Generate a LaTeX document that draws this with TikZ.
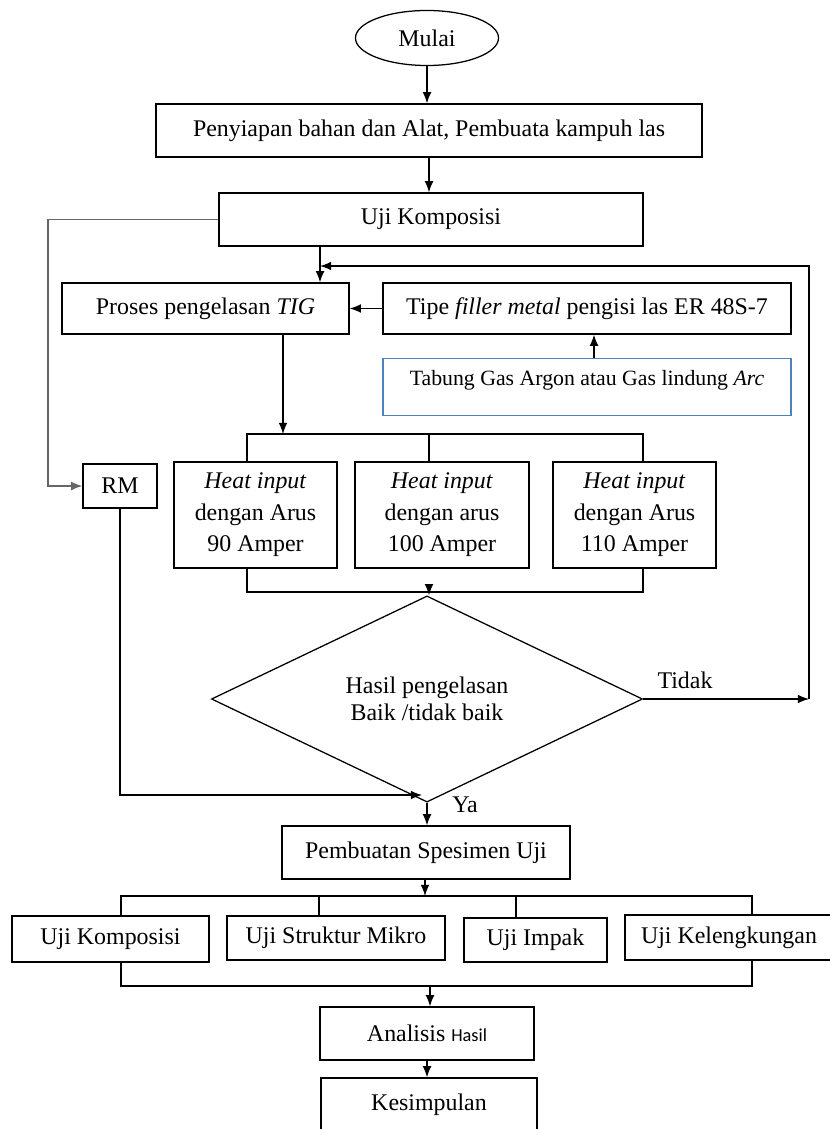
\documentclass[tikz,border=0pt]{standalone}
\usepackage{fontspec}
\setmainfont{Liberation Serif}
\newfontfamily\hasilfont{Carlito}
\usetikzlibrary{shapes.geometric, arrows.meta}
\definecolor{tabungblue}{RGB}{79,129,189}

\begin{document}
\begin{tikzpicture}[
    x=0.025cm, y=-0.025cm,
    process/.style={rectangle, draw, line width=0.9pt, minimum height=1.325cm, inner sep=2pt, align=center, fill=white},
    startstop/.style={ellipse, draw, line width=0.9pt, inner sep=0pt, minimum width=3.575cm, minimum height=1.375cm},
    decision/.style={diamond, draw, line width=0.9pt, inner sep=0pt, minimum width=10.775cm, minimum height=3.625cm, align=center, font=\fontsize{17}{19}\selectfont},
    arrow/.style={-{Latex[length=2.8mm, width=2.2mm]}, line width=0.9pt},
    connector/.style={line width=0.9pt},
    note/.style={font=\fontsize{17}{20}\selectfont},
    every node/.append style={font=\fontsize{17}{22.4}\selectfont}
]
    \useasboundingbox (0,0) rectangle (829,1129);

    \node[startstop] (mulai) at (427,38) {Mulai};
    \node[process, minimum width=13.65cm] (siap) at (429,130.5) {Penyiapan bahan dan Alat, Pembuata kampuh las};
    \node[process, minimum width=10.6cm] (ujikomp) at (431,219.5) {Uji Komposisi};
    \node[process, minimum width=7.175cm, minimum height=1.275cm] (tig) at (205.5,308.5) {Proses pengelasan \textit{TIG}};
    \node[process, minimum width=10.2cm, minimum height=1.275cm] (filler) at (587,308.5) {Tipe \textit{filler metal} pengisi las ER 48S-7};
    \node[process, draw=tabungblue, minimum width=10.2cm, minimum height=0pt, inner sep=0pt, text height=0.675cm, text depth=0.75cm, anchor=north, font=\fontsize{15.5}{18}\selectfont] (tabung) at (587,358) {Tabung Gas Argon atau Gas lindung \textit{Arc}};
    \node[process, minimum width=1.85cm, minimum height=1.1cm] (rm) at (120,486) {RM};
    \node[process, minimum width=4.075cm, minimum height=2.65cm] (heat90) at (255.5,515) {\textit{Heat input}\\dengan Arus\\90 Amper};
    \node[process, minimum width=4.35cm, minimum height=2.65cm] (heat100) at (442,515) {\textit{Heat input}\\dengan arus\\100 Amper};
    \node[process, minimum width=4.075cm, minimum height=2.65cm] (heat110) at (634.5,515) {\textit{Heat input}\\dengan Arus\\110 Amper};
    \node[decision] (hasil) at (427,699) {Hasil pengelasan\\Baik /tidak baik};
    \node[note] (tidak) at (685,680) {Tidak};
    \node[note] (ya) at (465,805) {Ya};
    \node[process, minimum width=7.2cm] (spesimen) at (426,852.5) {Pembuatan Spesimen Uji};
    \node[process, minimum width=4.925cm, minimum height=1.15cm] (komposisi) at (110.5,939) {Uji Komposisi};
    \node[process, minimum width=5.45cm, minimum height=1.1cm] (mikro) at (336,938) {Uji Struktur Mikro};
    \node[process, minimum width=3.575cm, minimum height=1.1cm] (impak) at (535.5,940) {Uji Impak};
    \node[process, minimum width=5.2cm, minimum height=1.125cm] (lengkung) at (729,937.5) {Uji Kelengkungan};
    \node[process, minimum width=5.35cm] (analisis) at (427,1033.5) {Analisis {\hasilfont\fontsize{13}{15}\selectfont Hasil}};
    \node[process, minimum width=5.4cm] (kesimpulan) at (429,1104.5) {Kesimpulan};

    % junction points
    \coordinate (leftrail) at (48,0);
    \coordinate (tigin) at (320,266);
    \coordinate (retour) at (809,699);
    \coordinate (gasup) at (594,0);
    \coordinate (splitA) at (283,434);
    \coordinate (splitL) at (247,434);
    \coordinate (splitM) at (429,434);
    \coordinate (splitR) at (643,434);
    \coordinate (joinL) at (247,592);
    \coordinate (joinM) at (429,592);
    \coordinate (joinR) at (643,592);
    \coordinate (rmjoin) at (422,795);
    \coordinate (testsplit) at (425,896);
    \coordinate (tL) at (121,896);
    \coordinate (tR) at (752,896);
    \coordinate (bL) at (121,986);
    \coordinate (bM) at (430,986);
    \coordinate (bR) at (752,986);

    \draw[arrow] (mulai.south) -- (mulai.south |- siap.north);
    \draw[arrow] (siap.south) -- (siap.south |- ujikomp.north);
    \draw[arrow, color=black!60] (ujikomp.west) -| (leftrail |- rm.west) -- (rm.west);
    \draw[arrow] (tigin |- ujikomp.south) -- (tigin |- tig.north);
    \draw[arrow] (filler.west) -- (tig.east);
    \draw[arrow] (gasup |- tabung.north) -- (gasup |- filler.south);

    \draw[arrow] (splitA |- tig.south) -- (splitA);
    \draw[connector] (splitL |- heat90.north) -- (splitL) -- (splitR) -- (splitR |- heat110.north);
    \draw[connector] (splitM) -- (splitM |- heat100.north);
    \draw[connector] (joinL |- heat90.south) -- (joinL) -- (joinR) -- (joinR |- heat110.south);
    \draw[arrow] (joinM) -- (joinM |- hasil.north);

    \draw[arrow] (hasil.east) -- (retour);
    \draw[arrow] (retour) |- (tigin);
    \draw[arrow] (rm.south) |- (rmjoin);
    \draw[arrow] (hasil.south) -- (hasil.south |- spesimen.north);

    \draw[arrow] (testsplit |- spesimen.south) -- (testsplit);
    \draw[connector] (tL |- komposisi.north) -- (tL) -- (tR) -- (tR |- lengkung.north);
    \foreach \x/\n in {319/mikro, 516/impak}
        \draw[connector] (\x,896) -- (\x,0 |- \n.north);
    \draw[connector] (bL |- komposisi.south) -- (bL) -- (bR) -- (bR |- lengkung.south);
    \draw[arrow] (bM) -- (bM |- analisis.north);
    \draw[arrow] (analisis.south) -- (analisis.south |- kesimpulan.north);
\end{tikzpicture}
\end{document}
